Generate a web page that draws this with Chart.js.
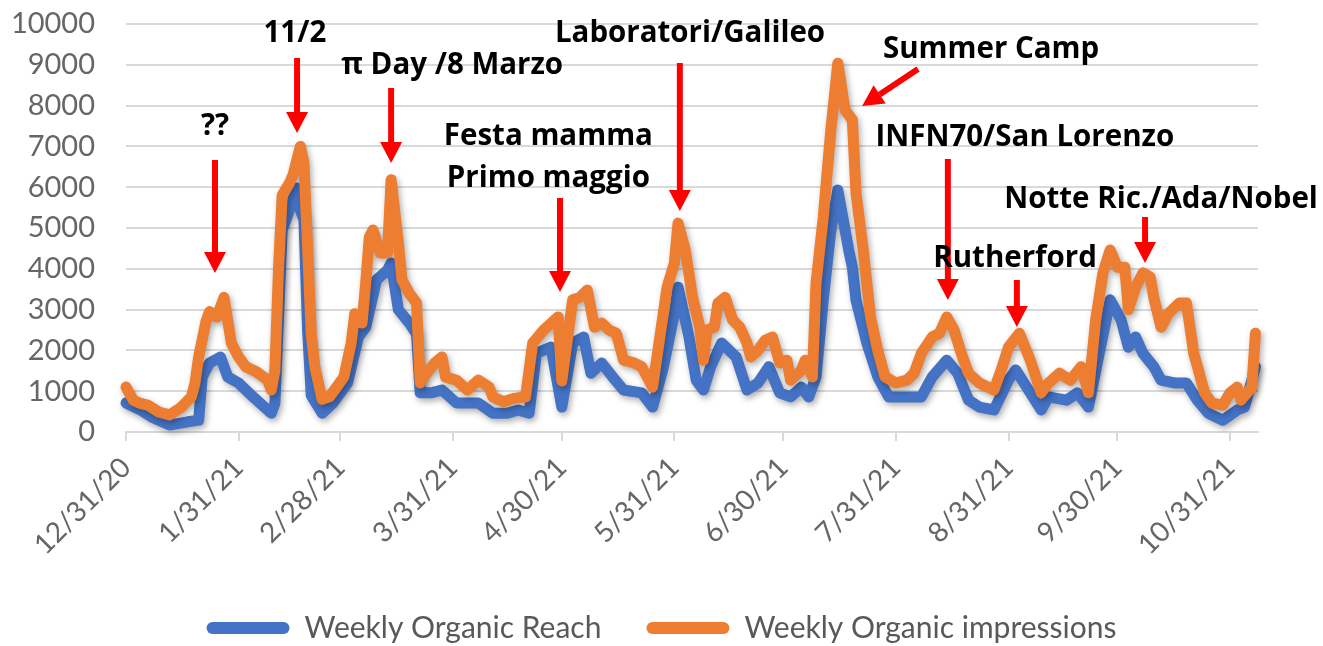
<!DOCTYPE html>
<html>
<head>
<meta charset="utf-8">
<script src="https://cdn.jsdelivr.net/npm/chart.js@4.4.1/dist/chart.umd.min.js"></script>
<style>
  html, body { margin: 0; padding: 0; background: #fff; }
  #wrap { width: 1323px; height: 646px; position: relative; }
</style>
</head>
<body>
<div id="wrap"><canvas id="chart"></canvas></div>
<script>
// --- DATA (x = days counted from 12/31/20) ---
const tickDays = [0, 31, 59, 90, 120, 151, 181, 212, 243, 273, 304];
const tickLabels = ['12/31/20', '1/31/21', '2/28/21', '3/31/21', '4/30/21', '5/31/21',
                    '6/30/21', '7/31/21', '8/31/21', '9/30/21', '10/31/21'];

const seriesNames = ['Weekly Organic Reach', 'Weekly Organic impressions'];

const reachDays = [0, 4, 7, 12, 17, 20, 21, 23, 26, 28, 31, 35, 39, 40, 41, 43, 45, 47, 48, 49, 50, 51,
  54, 57, 61, 64, 66, 69, 72, 73, 75, 78, 80, 81, 84, 87, 91, 97, 101, 105, 108, 111, 113, 117, 120,
  123, 126, 128, 131, 134, 137, 142, 145, 148, 151, 152, 155, 157, 159, 161, 164, 168, 171, 174, 177,
  180, 183, 186, 188, 190, 192, 194, 196, 199, 200, 201, 204, 207, 210, 213, 219, 222, 226, 229, 232,
  235, 239, 243, 245, 248, 252, 254, 259, 262, 265, 268, 271, 274, 276, 278, 280, 283, 285, 289, 292,
  295, 298, 302, 306, 308, 311];
const reach = [710, 540, 370, 170, 250, 290, 1350, 1690, 1840, 1350, 1200, 860, 540, 460, 700, 4950, 5440, 5980, 5440, 5200, 2500, 900,
  460, 710, 1200, 2330, 2570, 3730, 3970, 4140, 3000, 2670, 2400, 960, 960, 1030, 710, 710, 460, 460, 540, 460, 1930, 2080, 610,
  2180, 2330, 1440, 1690, 1350, 1030, 960, 610, 1600, 2900, 3550, 2330, 1270, 1030, 1600, 2180, 1840, 1030, 1200, 1600,
  960, 860, 1100, 860, 1350, 3240, 4880, 5930, 4460, 4040, 3240, 2180, 1350, 860, 860, 860, 1350, 1760, 1440, 780,
  610, 540, 1270, 1520, 1100, 540, 860, 780, 960, 610, 1930, 3240, 2750, 2080, 2330, 1930, 1600, 1270, 1200, 1200,
  780, 460, 290, 540, 610, 1600];

const impressionDays = [0, 2, 4, 6, 9, 12, 15, 18, 19, 20, 22, 23, 25, 27, 29, 31, 33, 36, 39, 40, 41, 42, 43,
  45, 46, 48, 49, 50, 51, 52, 54, 56, 58, 60, 62, 63, 65, 66, 67, 68, 70, 72, 73, 75, 76, 78, 80, 81,
  82, 85, 87, 88, 91, 94, 97, 100, 101, 104, 107, 110, 112, 115, 119, 120, 123, 125, 127, 129, 131,
  133, 135, 137, 140, 142, 145, 147, 149, 151, 152, 154, 156, 158, 159, 160, 162, 163, 165, 167, 169,
  171, 172, 174, 176, 178, 180, 182, 183, 186, 187, 189, 190, 192, 194, 196, 198, 200, 201, 203, 205,
  207, 209, 212, 215, 217, 219, 222, 224, 226, 228, 230, 232, 235, 239, 241, 243, 246, 249, 252, 254,
  257, 260, 263, 265, 267, 269, 271, 273, 275, 276, 278, 280, 282, 283, 285, 287, 290, 292, 294, 297,
  299, 302, 304, 306, 307, 310, 311];
const impressions = [1100, 780, 700, 660, 490, 420, 590, 860, 1200, 1840, 2700, 2950, 2820, 3300, 2180, 1840, 1600, 1470, 1270, 1030, 1500, 4000, 5800,
  6100, 6300, 7000, 6600, 4500, 2400, 1600, 800, 860, 1100, 1350, 2180, 2900, 2670, 3650, 4780, 4950, 4390, 4390, 6180, 4630, 3730, 3400, 3160, 1200,
  1350, 1690, 1840, 1350, 1270, 1030, 1270, 1100, 860, 740, 830, 860, 2180, 2500, 2820, 1250, 3240, 3300, 3480, 2570, 2670,
  2500, 2420, 1760, 1690, 1600, 1100, 2330, 3550, 4140, 5120, 4460, 3300, 2570, 1760, 2500, 2570, 3160, 3300, 2750, 2570,
  2180, 1840, 2000, 2250, 2330, 1690, 1760, 1270, 1520, 1760, 1350, 3650, 5270, 7330, 9040, 7890, 7650, 5860, 4460, 2820,
  2000, 1350, 1200, 1270, 1440, 1930, 2330, 2420, 2820, 2500, 1930, 1440, 1200, 1030, 1520, 2080, 2420, 1760, 960, 1200,
  1440, 1270, 1600, 960, 2750, 3900, 4460, 4040, 4040, 3000, 3550, 3900, 3800, 3300, 2570, 2900, 3160, 3160, 1930, 960,
  710, 660, 960, 1100, 780, 1100, 2420];

// annotation texts (anchored at day / value of the text baseline centre)
const noteLabels = [
  { text: '??', day: 24.5, value: 7279 },
  { text: '11/2', day: 46.5, value: 9559 },
  { text: 'π Day /8 Marzo', day: 89.8, value: 8775 },
  { text: 'Festa mamma', day: 116.3, value: 7034 },
  { text: 'Primo maggio', day: 116.3, value: 6005 },
  { text: 'Laboratori/Galileo', day: 155.3, value: 9559 },
  { text: 'Summer Camp', day: 238.2, value: 9167 },
  { text: 'INFN70/San Lorenzo', day: 247.5, value: 7010 },
  { text: 'Rutherford', day: 244.8, value: 4044 },
  { text: 'Notte Ric./Ada/Nobel', day: 285, value: 5490 }
];
// red arrows: [day, value] from tail to tip
const noteArrows = [
  { from: [24.5, 6667], to: [24.5, 3897] },
  { from: [47.1, 9167], to: [47.1, 7328] },
  { from: [73.0, 8431], to: [73.0, 6593] },
  { from: [119.5, 5735], to: [119.5, 3431] },
  { from: [152.5, 9044], to: [152.5, 5417] },
  { from: [218.1, 8897], to: [202.7, 7990] },
  { from: [226.3, 6691], to: [226.3, 3235] },
  { from: [245.3, 3725], to: [245.3, 2574] },
  { from: [280.6, 5270], to: [280.6, 4142] }
];

const BLUE = '#4472C4';
const ORANGE = '#ED7D31';
const GRID = '#d9d9d9';
const TICK_COLOR = '#666666';

Chart.defaults.font.family = 'Lato, "Liberation Sans", sans-serif';

// --- PLUGINS ---
const lineShadow = {
  id: 'lineShadow',
  beforeDatasetDraw(chart) {
    const ctx = chart.ctx;
    ctx.save();
    ctx.shadowColor = 'rgba(0, 0, 0, 0.32)';
    ctx.shadowBlur = 6;
    ctx.shadowOffsetX = 2;
    ctx.shadowOffsetY = 3;
  },
  afterDatasetDraw(chart) {
    chart.ctx.restore();
  }
};

// nudge the legend row a little lower, like the original
const legendNudge = {
  id: 'legendNudge',
  afterLayout(chart) {
    chart.legend.top += 7;
    chart.legend.bottom += 7;
  }
};

function drawArrow(ctx, x1, y1, x2, y2) {
  const ang = Math.atan2(y2 - y1, x2 - x1);
  const head = 21, half = 11;
  const bx = x2 - head * Math.cos(ang), by = y2 - head * Math.sin(ang);
  ctx.strokeStyle = '#ff0000';
  ctx.lineWidth = 6;
  ctx.lineCap = 'butt';
  ctx.beginPath();
  ctx.moveTo(x1, y1);
  ctx.lineTo(bx, by);
  ctx.stroke();
  ctx.fillStyle = '#ff0000';
  ctx.beginPath();
  ctx.moveTo(x2, y2);
  ctx.lineTo(bx + half * Math.sin(ang), by - half * Math.cos(ang));
  ctx.lineTo(bx - half * Math.sin(ang), by + half * Math.cos(ang));
  ctx.closePath();
  ctx.fill();
}

const notes = {
  id: 'notes',
  afterDraw(chart) {
    const { ctx, scales: { x, y } } = chart;
    ctx.save();
    noteArrows.forEach(a => {
      drawArrow(ctx, x.getPixelForValue(a.from[0]), y.getPixelForValue(a.from[1]),
                     x.getPixelForValue(a.to[0]), y.getPixelForValue(a.to[1]));
    });
    ctx.fillStyle = '#000';
    ctx.textAlign = 'center';
    ctx.textBaseline = 'alphabetic';
    ctx.font = 'bold 29.5px "Open Sans", Lato, sans-serif';
    noteLabels.forEach(n => {
      ctx.fillText(n.text, x.getPixelForValue(n.day), y.getPixelForValue(n.value));
    });
    ctx.restore();
  }
};

// --- CHART ---
const ctx = document.getElementById('chart').getContext('2d');
new Chart(ctx, {
  type: 'line',
  data: {
    datasets: [
      {
        label: seriesNames[0],
        data: reachDays.map((d, i) => ({ x: d, y: reach[i] })),
        borderColor: BLUE, backgroundColor: BLUE,
        borderWidth: 11, pointRadius: 0, tension: 0,
        borderJoinStyle: 'round', borderCapStyle: 'round',
        clip: false, order: 2
      },
      {
        label: seriesNames[1],
        data: impressionDays.map((d, i) => ({ x: d, y: impressions[i] })),
        borderColor: ORANGE, backgroundColor: ORANGE,
        borderWidth: 11, pointRadius: 0, tension: 0,
        borderJoinStyle: 'round', borderCapStyle: 'round',
        clip: false, order: 1
      }
    ]
  },
  options: {
    responsive: true, maintainAspectRatio: false,
    animation: false,
    layout: { padding: { top: 24, right: 0, bottom: 0, left: 0 } },
    plugins: {
      tooltip: { enabled: false },
      legend: {
        position: 'bottom',
        labels: {
          boxWidth: 83, boxHeight: 12,
          useBorderRadius: true, borderRadius: 6,
          padding: 45,
          color: '#595959',
          font: { size: 30 },
          sort: (a, b) => a.datasetIndex - b.datasetIndex,
          generateLabels: chart => Chart.defaults.plugins.legend.labels.generateLabels(chart)
            .map(l => ({ ...l, lineWidth: 0, fillStyle: l.strokeStyle }))
        }
      }
    },
    scales: {
      x: {
        type: 'linear', min: 0, max: 311.7,
        afterBuildTicks: s => { s.ticks = tickDays.map(v => ({ value: v })); },
        afterFit: s => { s.height = s.chart.height - s.chart.legend.height - 432; },
        ticks: {
          autoSkip: false, maxRotation: 45, minRotation: 45, padding: 10,
          color: TICK_COLOR, font: { size: 28 },
          callback: v => tickLabels[tickDays.indexOf(v)]
        },
        grid: { drawOnChartArea: false, drawTicks: true, tickLength: 9, color: GRID, lineWidth: 2 },
        border: { display: true, color: GRID, width: 2 }
      },
      y: {
        min: 0, max: 10000,
        // the label gap should not push the plot down
        afterFit: s => { s.width = 126; s.paddingTop = 0; s.paddingBottom = 0; },
        ticks: { stepSize: 1000, padding: 31, color: TICK_COLOR, font: { size: 29 }, callback: v => String(v) },
        grid: { color: GRID, lineWidth: 2, drawTicks: false },
        border: { display: false }
      },
      // empty right-hand strip, keeps the plot 65px from the right edge
      gap: {
        type: 'linear', position: 'right', display: true,
        afterFit: s => { s.width = 65; s.paddingTop = 0; s.paddingBottom = 0; },
        ticks: { display: false },
        grid: { display: false },
        border: { display: false }
      }
    }
  },
  plugins: [lineShadow, legendNudge, notes]
});
</script>
</body>
</html>
